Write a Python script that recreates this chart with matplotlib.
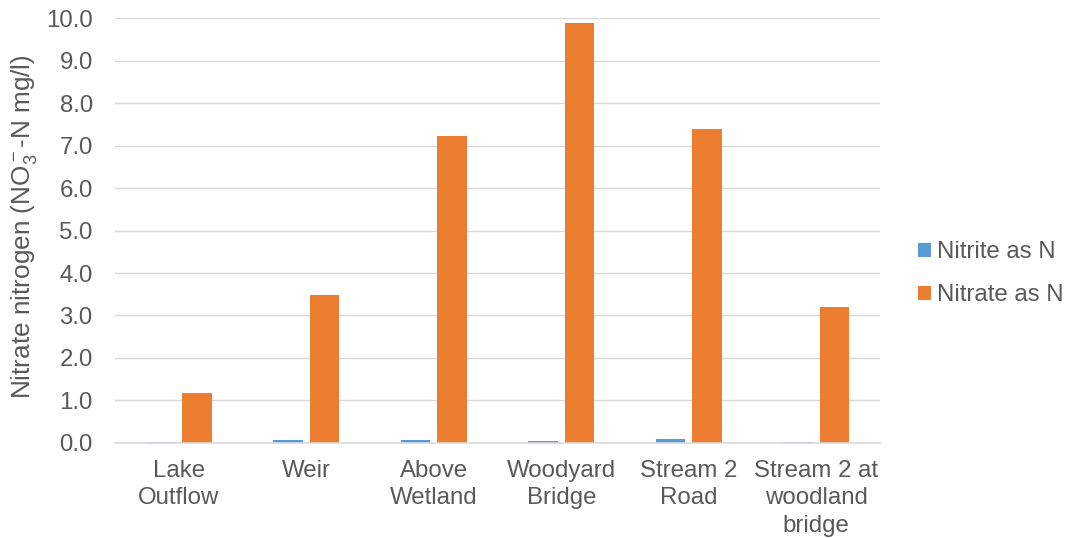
import matplotlib
matplotlib.use("Agg")
import matplotlib.pyplot as plt
import numpy as np

categories = ["Lake\nOutflow", "Weir", "Above\nWetland", "Woodyard\nBridge", "Stream 2\nRoad", "Stream 2 at\nwoodland\nbridge"]
nitrite = [0.02, 0.06, 0.06, 0.04, 0.09, 0.02]
nitrate = [1.18, 3.48, 7.23, 9.88, 7.39, 3.20]
series_names = ["Nitrite as N", "Nitrate as N"]
yticks = np.arange(0, 10.01, 1.0)

plt.rcParams['font.family'] = ['Liberation Sans', 'DejaVu Sans']
plt.rcParams['mathtext.fontset'] = 'custom'
plt.rcParams['mathtext.rm'] = 'Liberation Sans'
plt.rcParams['mathtext.it'] = 'Liberation Sans'
plt.rcParams['mathtext.default'] = 'regular'

txt = '#595959'
fs = 17.3
fig = plt.figure(figsize=(10.67, 5.38), dpi=100)
ax = fig.add_axes([0.1078, 0.1766, 0.717, 0.7899])

x = np.arange(len(categories))
w = 0.23
off = 0.143
ax.bar(x - off, nitrite, w, color='#5b9bd5', label=series_names[0], zorder=3)
ax.bar(x + off, nitrate, w, color='#ed7d31', label=series_names[1], zorder=3)

ax.set_xlim(-0.5, len(categories) - 0.5)
ax.set_ylim(0, 10)
ax.set_yticks(yticks)
ax.set_yticklabels([f"{v:.1f}" for v in yticks], fontsize=fs, color=txt)
ax.set_xticks(x)
ax.set_xticklabels(categories, fontsize=fs, color=txt, linespacing=1.32)
ax.tick_params(axis='x', length=0, pad=12)
ax.tick_params(axis='y', length=0, pad=16)
ax.grid(axis='y', color='#d9d9d9', linewidth=1, zorder=0)
for s in ['top', 'right', 'left']:
    ax.spines[s].set_visible(False)
ax.spines['bottom'].set_color('#d9d9d9')
ax.spines['bottom'].set_linewidth(1.2)
ax.spines['bottom'].set_zorder(4)
ax.set_ylabel('Nitrate nitrogen (NO$_3^-$-N mg/l)', fontsize=18.8, color=txt)
ax.yaxis.set_label_coords(-0.099, 0.51)

leg = fig.legend(loc='center left', bbox_to_anchor=(0.84, 0.491), frameon=False,
                 fontsize=fs, handlelength=0.55, handleheight=0.55, handletextpad=0.25,
                 labelspacing=0.88, labelcolor=txt)

fig.savefig('out.png', dpi=100)
